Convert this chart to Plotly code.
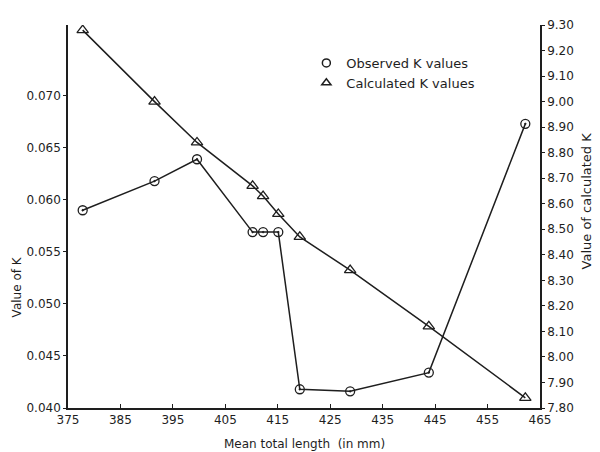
import plotly.graph_objects as go

# Data
lengths = [377.8, 391.5, 399.6, 410.2, 412.2, 415.1, 419.2, 428.8, 443.8, 462.2]
observed_k = [0.0590, 0.0618, 0.0639, 0.0569, 0.0569, 0.0569, 0.0418, 0.0416, 0.0434, 0.0673]
calculated_k = [9.28, 9.00, 8.84, 8.67, 8.63, 8.56, 8.47, 8.34, 8.12, 7.84]
x_ticks = [375, 385, 395, 405, 415, 425, 435, 445, 455, 465]
left_ticks = [0.040, 0.045, 0.050, 0.055, 0.060, 0.065, 0.070]
right_ticks = [7.80, 7.90, 8.00, 8.10, 8.20, 8.30, 8.40, 8.50, 8.60, 8.70, 8.80, 8.90, 9.00, 9.10, 9.20, 9.30]

ink = "#1e1e1e"
fam = "DejaVu Sans"
font = dict(family=fam, size=12, color=ink)

fig = go.Figure()
fig.add_trace(go.Scatter(
    x=lengths, y=observed_k, mode="lines+markers", showlegend=False,
    line=dict(color=ink, width=1.5),
    marker=dict(symbol="circle-open-dot", size=9, color=ink, line=dict(width=1.3)),
))
fig.add_trace(go.Scatter(
    x=lengths, y=calculated_k, mode="lines+markers", showlegend=False, yaxis="y2",
    line=dict(color=ink, width=1.5),
    marker=dict(symbol="triangle-up-open", size=10, color=ink, line=dict(width=1.3)),
))
# legend-only entries (marker only)
fig.add_trace(go.Scatter(
    x=[None], y=[None], mode="markers", name="Observed K values",
    marker=dict(symbol="circle-open", size=8, color=ink, line=dict(width=1.5)),
))
fig.add_trace(go.Scatter(
    x=[None], y=[None], mode="markers", name="Calculated K values",
    marker=dict(symbol="triangle-up-open", size=8, color=ink, line=dict(width=1.5)),
))

fig.update_layout(
    width=592, height=444,
    margin=dict(l=60, r=60, t=10, b=44),
    paper_bgcolor="white", plot_bgcolor="white",
    font=font,
    xaxis=dict(
        range=[375, 465], tickvals=x_ticks, ticktext=[str(v) for v in x_ticks],
        showgrid=False, zeroline=False, showline=True, linecolor=ink, linewidth=1.5,
        ticks="inside", ticklen=4, tickcolor=ink,
    ),
    yaxis=dict(
        range=[0.040, 0.0768], tickvals=left_ticks, ticktext=[f"{v:.3f}" for v in left_ticks],
        showgrid=False, zeroline=False, showline=True, linecolor=ink, linewidth=1.5,
        ticks="outside", ticklen=3, tickcolor=ink,
    ),
    yaxis2=dict(
        range=[7.80, 9.30], overlaying="y", side="right",
        tickvals=right_ticks, ticktext=[f"{v:.2f}" for v in right_ticks],
        showgrid=False, zeroline=False, showline=True, linecolor=ink, linewidth=1.5,
        ticks="outside", ticklen=3, tickcolor=ink,
    ),
    legend=dict(
        x=0.505, y=0.94, xanchor="left", yanchor="top",
        bgcolor="rgba(0,0,0,0)", font=dict(family=fam, size=13, color=ink),
        itemwidth=30, tracegroupgap=4,
    ),
    annotations=[
        dict(text="Mean total length  (in mm)", xref="paper", yref="paper",
             x=0.5, y=-0.095, xanchor="center", yanchor="middle", showarrow=False,
             font=dict(family=fam, size=12, color=ink)),
        dict(text="Value of K", xref="paper", yref="paper",
             x=-0.108, y=0.315, xanchor="center", yanchor="middle", showarrow=False,
             textangle=-90, font=dict(family=fam, size=12, color=ink)),
        dict(text="Value of calculated K", xref="paper", yref="paper",
             x=1.098, y=0.54, xanchor="center", yanchor="middle", showarrow=False,
             textangle=-90, font=dict(family=fam, size=13, color=ink)),
    ],
)

fig.write_html("out.html")
